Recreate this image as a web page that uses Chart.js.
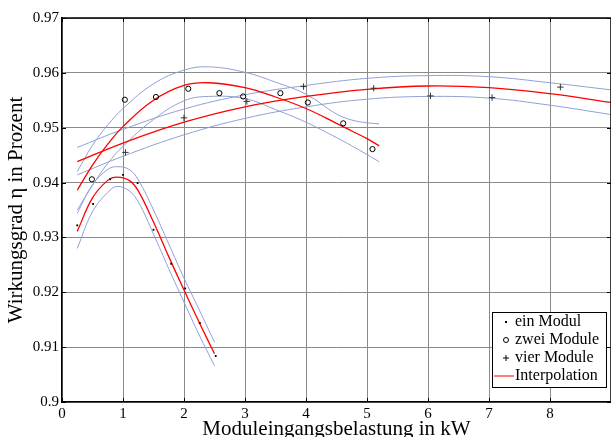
<!DOCTYPE html>
<html>
<head>
<meta charset="utf-8">
<script src="https://cdn.jsdelivr.net/npm/chart.js@4.4.0/dist/chart.umd.min.js"></script>
<style>
  html, body { margin: 0; padding: 0; background: #fff; }
  #wrap { width: 611px; height: 437px; overflow: hidden; }
</style>
</head>
<body>
<div id="wrap"><canvas id="chart" width="616" height="437"></canvas></div>
<script>
// ---- Messpunkte ----
const einX  = [0.25, 0.51, 0.79, 1.0, 1.24, 1.5, 1.79, 2.02, 2.26, 2.52];
const einY  = [0.9322, 0.9361, 0.9406, 0.9414, 0.9399, 0.9314, 0.9252, 0.9207, 0.9144, 0.9084];
const zweiX = [0.49, 1.03, 1.54, 2.07, 2.58, 2.97, 3.58, 4.03, 4.61, 5.09];
const zweiY = [0.9406, 0.9551, 0.9556, 0.9571, 0.9563, 0.9557, 0.9563, 0.9546, 0.9508, 0.9461];
const vierX = [1.04, 2.0, 3.03, 3.96, 5.11, 6.04, 7.05, 8.17];
const vierY = [0.9455, 0.9518, 0.9548, 0.9575, 0.9572, 0.9558, 0.9555, 0.9574];

const einFitX   = [0.25, 0.5, 0.75, 0.9, 1.1, 1.25, 1.5, 1.75, 2.0, 2.25, 2.5];
const einFit    = [0.9311, 0.9372, 0.9404, 0.9410, 0.9404, 0.9385, 0.9328, 0.9265, 0.9204, 0.9145, 0.9088];
const einOben   = [0.9344, 0.9396, 0.9424, 0.9429, 0.9424, 0.9405, 0.9350, 0.9288, 0.9226, 0.9168, 0.9109];
const einUnten  = [0.9280, 0.9347, 0.9382, 0.9393, 0.9385, 0.9365, 0.9306, 0.9243, 0.9182, 0.9122, 0.9066];

const zweiFitX  = [0.25, 0.5, 0.75, 1.0, 1.5, 2.0, 2.4, 3.0, 3.5, 4.0, 4.5, 4.75, 5.0, 5.2];
const zweiFit   = [0.9386, 0.9432, 0.9470, 0.9502, 0.9550, 0.9577, 0.9582, 0.9573, 0.9556, 0.9535, 0.9508, 0.9494, 0.9480, 0.9467];
const zweiOben  = [0.9420, 0.9468, 0.9505, 0.9535, 0.9580, 0.9605, 0.9611, 0.9601, 0.9583, 0.9561, 0.9525, 0.9514, 0.9509, 0.9507];
const zweiUnten = [0.9350, 0.9395, 0.9435, 0.9466, 0.9515, 0.9549, 0.9557, 0.9553, 0.9533, 0.9510, 0.9482, 0.9467, 0.9451, 0.9438];

const vierFitX  = [0.25, 1, 2, 3, 4, 5, 6, 7, 8, 9];
const vierFit   = [0.9438, 0.9472, 0.9510, 0.9538, 0.9557, 0.9570, 0.9576, 0.9573, 0.9562, 0.9546];
const vierOben  = [0.9464, 0.9497, 0.9534, 0.9560, 0.9577, 0.9590, 0.9595, 0.9593, 0.9582, 0.9569];
const vierUnten = [0.9414, 0.9448, 0.9487, 0.9517, 0.9538, 0.9552, 0.9557, 0.9554, 0.9541, 0.9524];

// ---- Achsenbeschriftung ----
const xTickLabels = ['0', '1', '2', '3', '4', '5', '6', '7', '8', ''];
const yTickLabels = ['0.9', '0.91', '0.92', '0.93', '0.94', '0.95', '0.96', '0.97'];

const SERIF = '"Liberation Serif", "Times New Roman", serif';
const ROT = '#ff0000';
const BLAU = '#8fa0d6';

// x/y-Arrays zu Punktobjekten
function pts(xs, ys) {
    return xs.map((x, i) => ({ x: x, y: ys[i] }));
}
function kurve(xs, ys, farbe, breite) {
    return {
        type: 'line', data: pts(xs, ys), borderColor: farbe, borderWidth: breite,
        pointRadius: 0, tension: 0.4, fill: false
    };
}

// Rahmen, innere Ticks und Legende
const rahmenPlugin = {
    id: 'rahmen',
    afterDraw(chart) {
        const { ctx, chartArea: a, scales: { x, y } } = chart;
        ctx.save();
        ctx.strokeStyle = '#000';
        ctx.lineWidth = 1.5;
        ctx.beginPath();
        ctx.moveTo(a.left, a.top);
        ctx.lineTo(a.right, a.top);
        ctx.lineTo(a.right, a.bottom);
        ctx.stroke();

        ctx.lineWidth = 1;
        ctx.beginPath();
        x.ticks.forEach(t => {
            const px = Math.round(x.getPixelForValue(t.value)) + 0.5;
            ctx.moveTo(px, a.bottom); ctx.lineTo(px, a.bottom - 4);
            ctx.moveTo(px, a.top); ctx.lineTo(px, a.top + 4);
        });
        y.ticks.forEach(t => {
            const py = Math.round(y.getPixelForValue(t.value)) + 0.5;
            ctx.moveTo(a.left, py); ctx.lineTo(a.left + 4, py);
            ctx.moveTo(a.right, py); ctx.lineTo(a.right - 4, py);
        });
        ctx.stroke();

        // Legende
        const L = 492.5, T = 312.5, W = 114, H = 75;
        ctx.fillStyle = '#fff';
        ctx.fillRect(L, T, W, H);
        ctx.strokeStyle = '#000';
        ctx.strokeRect(L, T, W, H);
        const zeilen = [322, 340, 358, 376];
        const mx = 506;
        ctx.fillStyle = '#000';
        ctx.fillRect(mx - 1, zeilen[0] - 1, 2, 2);
        ctx.beginPath();
        ctx.arc(mx, zeilen[1], 2.5, 0, Math.PI * 2);
        ctx.stroke();
        ctx.beginPath();
        ctx.moveTo(mx - 3, zeilen[2]); ctx.lineTo(mx + 3, zeilen[2]);
        ctx.moveTo(mx, zeilen[2] - 3); ctx.lineTo(mx, zeilen[2] + 3);
        ctx.stroke();
        ctx.strokeStyle = ROT;
        ctx.beginPath();
        ctx.moveTo(494, zeilen[3]); ctx.lineTo(514, zeilen[3]);
        ctx.stroke();

        ctx.font = '16px ' + SERIF;
        ctx.textBaseline = 'middle';
        ctx.textAlign = 'left';
        ctx.fillStyle = '#000';
        ['ein Modul', 'zwei Module', 'vier Module', 'Interpolation'].forEach((txt, i) => {
            ctx.fillText(txt, 515, zeilen[i]);
        });
        ctx.restore();
    }
};

new Chart(document.getElementById('chart'), {
    type: 'scatter',
    data: {
        datasets: [
            { data: pts(einX, einY), pointStyle: 'rect', pointRadius: 1.3, backgroundColor: '#000', borderColor: '#000', borderWidth: 0 },
            { data: pts(zweiX, zweiY), pointStyle: 'circle', pointRadius: 2.6, backgroundColor: 'rgba(0,0,0,0)', borderColor: '#000', borderWidth: 1 },
            { data: pts(vierX, vierY), pointStyle: 'cross', pointRadius: 3.2, borderColor: '#333', borderWidth: 1 },
            kurve(einFitX, einFit, ROT, 1.3),
            kurve(zweiFitX, zweiFit, ROT, 1.3),
            kurve(vierFitX, vierFit, ROT, 1.3),
            kurve(einFitX, einOben, BLAU, 1),
            kurve(einFitX, einUnten, BLAU, 1),
            kurve(zweiFitX, zweiOben, BLAU, 1),
            kurve(zweiFitX, zweiUnten, BLAU, 1),
            kurve(vierFitX, vierOben, BLAU, 1),
            kurve(vierFitX, vierUnten, BLAU, 1)
        ]
    },
    options: {
        responsive: false,
        devicePixelRatio: 1,
        animation: false,
        layout: { padding: { top: 18, right: 0, bottom: 0, left: 0 } },
        plugins: { legend: { display: false }, tooltip: { enabled: false } },
        scales: {
            x: {
                type: 'linear', min: 0, max: 9,
                afterFit: s => { s.height = 35; },
                ticks: {
                    stepSize: 1, autoSkip: false, maxRotation: 0, padding: 3, color: '#000',
                    font: { family: SERIF, size: 15 },
                    callback: (v, i) => xTickLabels[i]
                },
                grid: { color: '#8a8a8a', lineWidth: 1, drawTicks: false },
                border: { display: true, color: '#000', width: 1.5 },
                title: {
                    display: true, text: 'Moduleingangsbelastung in kW', color: '#000',
                    font: { family: SERIF, size: 21, lineHeight: 1 },
                    padding: { top: 0, bottom: -3 }
                }
            },
            y: {
                min: 0.9, max: 0.97,
                afterFit: s => { s.width = 62; },
                ticks: {
                    stepSize: 0.01, padding: 3, color: '#000',
                    font: { family: SERIF, size: 15 },
                    callback: (v, i) => yTickLabels[i]
                },
                grid: { color: '#8a8a8a', lineWidth: 1, drawTicks: false },
                border: { display: true, color: '#000', width: 1.5 },
                title: {
                    display: true, text: 'Wirkungsgrad η in Prozent', color: '#000',
                    font: { family: SERIF, size: 21, lineHeight: 1 },
                    padding: { top: 5.5, bottom: 0 }
                }
            }
        }
    },
    plugins: [rahmenPlugin]
});
</script>
</body>
</html>
